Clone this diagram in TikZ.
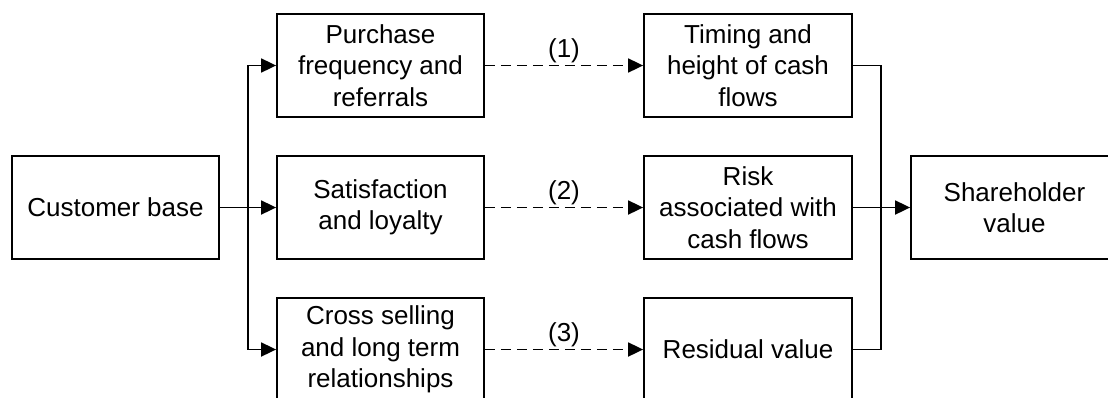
\documentclass[tikz,border=0pt]{standalone}
\usepackage{fontspec}
\setmainfont{Liberation Sans}
\usetikzlibrary{arrows.meta}
\tikzset{
  box/.style={draw, line width=1.8pt, minimum width=207pt, minimum height=103pt,
    align=center, inner sep=0pt, font=\fontsize{26}{31.5}\selectfont},
  link/.style={line width=1.8pt},
  arr/.style={link, -{Triangle[length=15pt,width=14pt]}},
  dasharr/.style={arr, dash pattern=on 10pt off 6pt},
  lbl/.style={anchor=south, inner sep=0pt, yshift=2pt, font=\fontsize{26}{31.5}\selectfont}
}
\begin{document}
\begin{tikzpicture}[x=1pt,y=-1pt]
\useasboundingbox (0,0) rectangle (1108,397);
% source
\node[box] (cb) at (115.5,207.5) {Customer base};
% drivers
\node[box] (p1) at (380.5,65.5)  {Purchase\\frequency and\\referrals};
\node[box] (p2) at (380.5,207.5) {Satisfaction\\and loyalty};
\node[box] (p3) at (380.5,349.5) {Cross selling\\and long term\\relationships};
% cash flow effects
\node[box, minimum width=208pt] (c1) at (748,65.5)  {Timing and\\height of cash\\flows};
\node[box, minimum width=208pt] (c2) at (748,207.5) {Risk\\associated with\\cash flows};
\node[box, minimum width=208pt] (c3) at (748,349.5) {Residual value};
% result
\node[box] (sv) at (1014.5,207.5) {Shareholder\\value};

% fan-out from the customer base
\coordinate (split) at (248,207.5);
\draw[arr] (cb.east) -- (p2.west);
\draw[arr] (split) |- (p1.west);
\draw[arr] (split) |- (p3.west);

% dashed links
\draw[dasharr] (p1.east) -- node[lbl] {(1)} (c1.west);
\draw[dasharr] (p2.east) -- node[lbl] {(2)} (c2.west);
\draw[dasharr] (p3.east) -- node[lbl] {(3)} (c3.west);

% merge into shareholder value
\coordinate (mtop) at (881,65.5);
\coordinate (mbot) at (881,349.5);
\draw[link] (c1.east) -- (mtop) -- (mbot) -- (c3.east);
\draw[arr] (c2.east) -- (sv.west);
\end{tikzpicture}
\end{document}
